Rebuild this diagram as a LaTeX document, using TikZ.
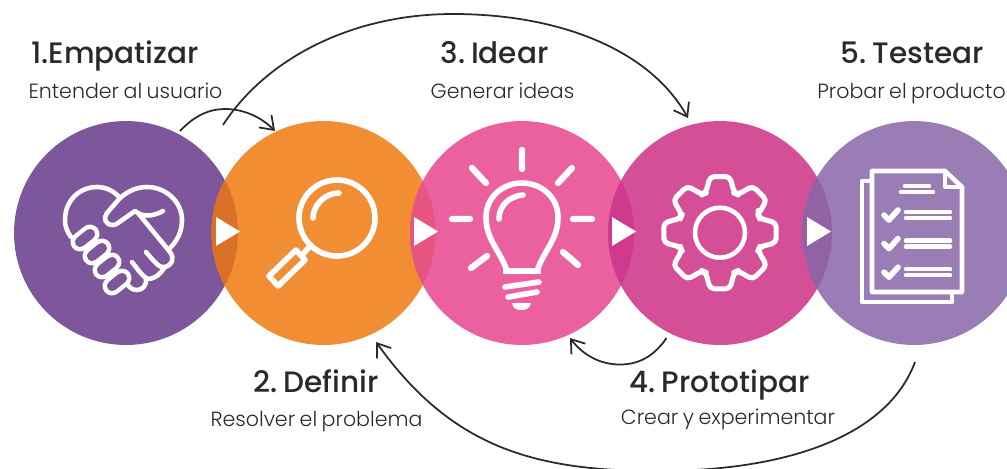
\documentclass[tikz,border=0pt]{standalone}
\usepackage{fontspec}
\setmainfont{Poppins}
\newfontfamily\fuentetitulo[WordSpace=0.45]{Poppins Medium}
\newfontfamily\fuentesub[WordSpace=0.8]{Poppins Light}
\usetikzlibrary{arrows.meta}
\definecolor{morado}{HTML}{7E569B}
\definecolor{naranja}{HTML}{F18E33}
\definecolor{rosa}{HTML}{EB609F}
\definecolor{fucsia}{HTML}{D54F98}
\definecolor{lila}{HTML}{9A7DB5}
\definecolor{tinta}{HTML}{2A2A2A}
\definecolor{cruceA}{HTML}{DB7127}
\definecolor{cruceB}{HTML}{E85480}
\definecolor{cruceC}{HTML}{CF3A8F}
\definecolor{cruceD}{HTML}{9362A5}
\tikzset{
  etapa/.style={circle,minimum size=4.48cm,inner sep=0pt,outer sep=0pt},
  titulo/.style={anchor=base,text=tinta,font=\fuentetitulo\fontsize{16.8}{18}\selectfont},
  subtitulo/.style={anchor=base,text=tinta,font=\fuentesub\fontsize{11.7}{12}\selectfont},
  flecha/.style={draw=tinta,line width=1pt,-{Straight Barb[length=7pt,width=10pt]}},
  trazo/.style={draw=white,line width=2.6pt,line cap=round,line join=round},
}
\begin{document}
\begin{tikzpicture}[x=0.02cm,y=-0.02cm]
  \useasboundingbox (0,0) rectangle (1007,468);
  \clip (0,0) rectangle (1007,468);
  %circulos
  \node[etapa,fill=morado](E) at (126,233) {};
  \node[etapa,fill=naranja](D) at (323.5,233) {};
  \node[etapa,fill=rosa](I) at (522,233) {};
  \node[etapa,fill=fucsia](P) at (720,233) {};
  \node[etapa,fill=lila](T) at (914,233) {};
  %cruces
  \begin{scope}\clip (E.center) circle (112); \fill[cruceA] (D.center) circle (112);\end{scope}
  \begin{scope}\clip (D.center) circle (112); \fill[cruceB] (I.center) circle (112);\end{scope}
  \begin{scope}\clip (I.center) circle (112); \fill[cruceC] (P.center) circle (112);\end{scope}
  \begin{scope}\clip (P.center) circle (112); \fill[cruceD] (T.center) circle (112);\end{scope}
  \foreach \x in {216,414,612,807}
    \fill[white] (\x,217) -- (\x,246) -- (\x+24,231.5) -- cycle;
  %textos
  \node[titulo](t1) at (115,63) {1.Empatizar};
  \node[subtitulo](s1) at (125.5,98) {Entender al usuario};
  \node[titulo](t3) at (494.5,63) {3. Idear};
  \node[subtitulo](s3) at (502.5,98) {Generar ideas};
  \node[titulo](t5) at (912,63) {5. Testear};
  \node[subtitulo](s5) at (911.5,98) {Probar el producto};
  \node[titulo](t2) at (316,392) {2. Definir};
  \node[subtitulo](s2) at (316.5,426) {Resolver el problema};
  \node[titulo](t4) at (719.5,392) {4. Prototipar};
  \node[subtitulo](s4) at (728,424) {Crear y experimentar};
  %flechas
  \coordinate (a1) at (180,131);
  \coordinate (a2) at (275,131);
  \coordinate (b1) at (223,125);
  \coordinate (b2) at (688,118);
  \coordinate (c1) at (666.5,338);
  \coordinate (c2) at (570,338);
  \coordinate (d1) at (915,362);
  \coordinate (d2) at (376,342);
  \draw[flecha] (a1) .. controls (195,115) and (210,109) .. (225,109) .. controls (245,109) and (262,118) .. (a2);
  \draw[flecha] (b1) .. controls (265,60) and (350,14) .. (453,14) .. controls (560,14) and (650,50) .. (b2);
  \draw[flecha] (c1) .. controls (655,355) and (640,364.5) .. (620,364.5) .. controls (600,364.5) and (583,355) .. (c2);
  \draw[flecha] (d1) .. controls (888,435) and (790,471) .. (657,471) .. controls (530,471) and (450,445) .. (d2);
  %manos
  \draw[trazo] (71,237) .. controls (66,230) and (65,225) .. (65,220) .. controls (65,200) and (80,187) .. (97,187) .. controls (106,187) and (114,191) .. (120,198);
  \draw[trazo] (107,213) -- (120,198) .. controls (128,191) and (137,187) .. (147,187) .. controls (166,187) and (182,202) .. (182,220) .. controls (182,232) and (177,241) .. (170,248);
  \draw[trazo] (107,213) .. controls (103,218) and (105,225) .. (113,225) .. controls (115,225) and (117,224) .. (118,223) -- (135,211) .. controls (142,217) and (152,217) .. (163,211);
  \draw[trazo] (138,213) -- (170,252) .. controls (175,259) and (172,265) .. (165,267) .. controls (160,268) and (157,265) .. (146,252);
  \draw[trazo] (165,267) .. controls (160,274) and (157,277) .. (150,279) .. controls (145,279) and (142,275) .. (132,262);
  \draw[trazo] (146,278) .. controls (147,285) and (143,290) .. (137,290) .. controls (133,290) and (130,288) .. (128,285);
  \foreach \x/\y in {85/238,97/252,107/266,117/282}{
    \draw[white,line width=10.8pt,line cap=round] (\x-5,\y+4) -- (\x+5,\y-4);
    \draw[morado,line width=5.8pt,line cap=round] (\x-5,\y+4) -- (\x+5,\y-4);
  }
  %lupa
  \draw[trazo,line width=3.2pt] (337,218) circle (38);
  \draw[trazo,line width=3.2pt] (313,218) .. controls (313,205) and (325,193) .. (339,193);
  \draw[trazo,line width=3.2pt] (311,245) -- (303,254);
  \draw[trazo,line width=3.2pt,line cap=butt,line join=round] (296,250) -- (305,260) -- (278,286) -- (269,276) -- cycle;
  %bombilla
  \draw[trazo,line width=3.6pt] (522,150) -- (522,169) (572,168) -- (558,183) (472,168) -- (486,183)
    (452,219) -- (470,219) (573,219) -- (592,219) (471,268) -- (487,256) (563,252) -- (578,265);
  \draw[trazo,line width=3.2pt,line cap=butt] (507,271) .. controls (500,250) and (486,240) .. (486,217) .. controls (486,197) and (503,183) .. (522,183) .. controls (541,183) and (558,197) .. (558,217) .. controls (558,240) and (544,250) .. (537,271);
  \draw[trazo,line width=3.2pt,line cap=butt] (503,271) -- (541,271);
  \draw[trazo,line width=3.2pt] (499,219) .. controls (499,205) and (510,196) .. (523,195);
  \draw[trazo,line width=3.2pt] (505,287) -- (539,282) (508,297) -- (537,292);
  \fill[white] (512,303) -- (531,303) .. controls (530,309) and (525,310) .. (521.5,310) .. controls (517,310) and (513,309) .. cycle;
  %engranaje
  \begin{scope}[shift={(720,232.7)}]
    \draw[trazo,line width=2.9pt,rounded corners=2.5pt] (-25:42) foreach \a in {0,45,...,315} {-- (\a-20:42) -- (\a-10:57) -- (\a+10:57) -- (\a+20:42)} -- cycle;
    \draw[trazo] (0,0) circle (25);
  \end{scope}
  %hojas
  \draw[trazo] (872,171) -- (945,171) -- (962,187) -- (962,292) -- (872,292) -- cycle;
  \draw[trazo] (945,171) -- (945,187) -- (962,187);
  \draw[trazo] (870,181) -- (862,181) -- (862,302) -- (952,302) -- (952,292);
  \draw[trazo] (905,186) -- (929,186) (901,192) -- (933,192);
  \foreach \y in {0,28.6,57.2}{
    \draw[trazo] (906,\y+212) -- (950,\y+212) (906,\y+218) -- (950,\y+218);
    \draw[trazo,line width=3.2pt] (884,\y+215) -- (889,\y+220) -- (898,\y+210);
  }
\end{tikzpicture}
\end{document}
